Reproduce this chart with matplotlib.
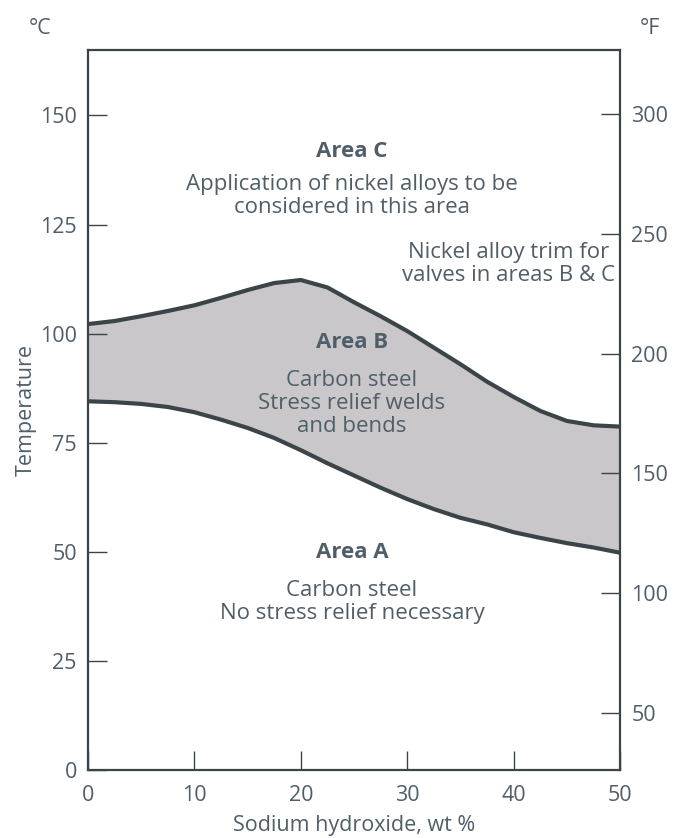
import numpy as np
import matplotlib
matplotlib.use('Agg')
import matplotlib.pyplot as plt

plt.rcParams['font.family'] = ['Open Sans', 'DejaVu Sans']

# sodium hydroxide concentration, wt %
naoh = [0, 2.5, 5, 7.5, 10, 12.5, 15, 17.5, 20, 22.5, 25, 27.5, 30,
        32.5, 35, 37.5, 40, 42.5, 45, 47.5, 50]
# upper boundary (Area B / Area C), degC
upper_c = [102.2, 102.9, 104.0, 105.2, 106.5, 108.2, 110.0, 111.6, 112.3, 110.6,
           107.2, 104.0, 100.6, 96.8, 93.0, 89.0, 85.5, 82.3, 80.0, 79.0, 78.7]
# lower boundary (Area A / Area B), degC
lower_c = [84.5, 84.3, 83.9, 83.2, 82.0, 80.3, 78.4, 76.1, 73.3, 70.3,
           67.5, 64.7, 62.1, 59.8, 57.8, 56.3, 54.5, 53.2, 52.0, 51.0, 49.8]

x_ticks = [0, 10, 20, 30, 40, 50]
c_ticks = [0, 25, 50, 75, 100, 125, 150]
f_ticks = [50, 100, 150, 200, 250, 300]

txt = '#4f5e69'
dark = '#3a4449'
fill = '#c9c7c9'

fig = plt.figure(figsize=(6.81, 8.38), dpi=100)
ax = fig.add_axes([0.1292, 0.0811, 0.9105 - 0.1292, 0.9403 - 0.0811])

ax.fill_between(naoh, lower_c, upper_c, color=fill, lw=0)
ax.plot(naoh, upper_c, color=dark, lw=3, solid_joinstyle='round', solid_capstyle='butt')
ax.plot(naoh, lower_c, color=dark, lw=3, solid_joinstyle='round', solid_capstyle='butt')

ax.set_xlim(0, 50)
ax.set_ylim(0, 165)
ax.set_xticks(x_ticks)
ax.set_yticks(c_ticks)
for s in ax.spines.values():
    s.set_color(dark)
    s.set_linewidth(1.6)
ax.tick_params(direction='in', length=14, width=1, color=dark,
               labelcolor=txt, labelsize=15.5, pad=8)
ax.tick_params(axis='x', pad=11)

ax2 = ax.twinx()
ax2.set_ylim(26.2, 326.7)
ax2.set_yticks(f_ticks)
ax2.tick_params(direction='in', length=14, width=1, color=dark,
                labelcolor=txt, labelsize=15.5, pad=8)
for s in ax2.spines.values():
    s.set_visible(False)

ax.set_xlabel('Sodium hydroxide, wt %', color=txt, fontsize=15.5, labelpad=6)
ax.set_ylabel('Temperature', color=txt, fontsize=15.5, labelpad=2)
fig.text(40 / 681, 1 - 28 / 838, '°C', color=txt, fontsize=15.5, ha='center', va='center')
fig.text(650 / 681, 1 - 28 / 838, '°F', color=txt, fontsize=15.5, ha='center', va='center')

kw = dict(color=txt, fontsize=16, ha='center', va='center')
ax.text(24.8, 141.7, 'Area C', fontweight='bold', **kw)
ax.text(24.8, 131.6, 'Application of nickel alloys to be\nconsidered in this area',
        linespacing=1.1, **kw)
ax.text(39.5, 116.0, 'Nickel alloy trim for\nvalves in areas B & C',
        linespacing=1.1, **kw)
ax.text(24.8, 98.0, 'Area B', fontweight='bold', **kw)
ax.text(24.8, 84.0, 'Carbon steel\nStress relief welds\nand bends',
        linespacing=1.1, **kw)
ax.text(24.8, 49.8, 'Area A', fontweight='bold', **kw)
ax.text(24.8, 38.5, 'Carbon steel\nNo stress relief necessary',
        linespacing=1.1, **kw)

fig.savefig('out.png', dpi=100, facecolor='white')
